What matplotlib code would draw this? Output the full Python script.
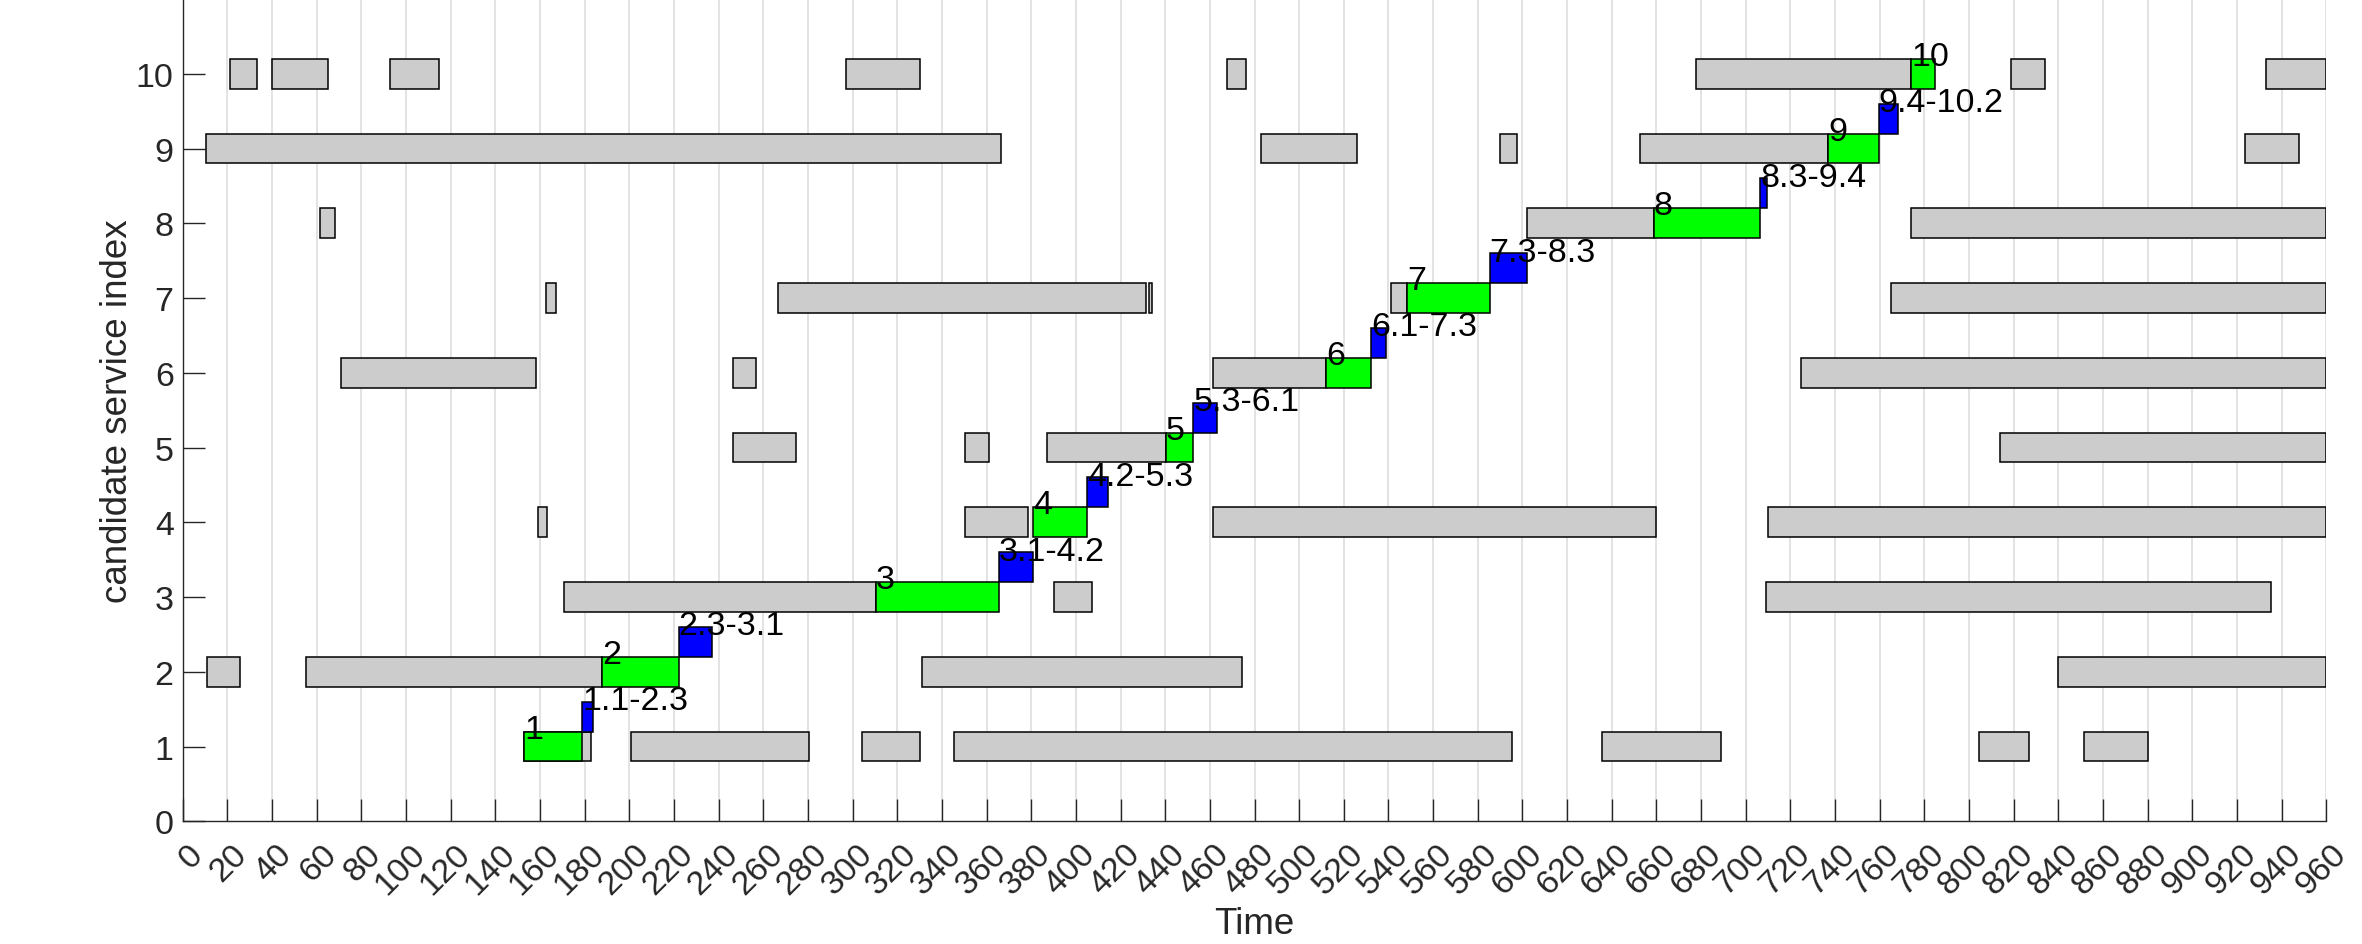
import matplotlib
matplotlib.use("Agg")
import matplotlib.pyplot as plt
import matplotlib.transforms as mtransforms
import numpy as np

plt.rcParams["font.family"] = ["Liberation Sans", "DejaVu Sans"]

# grey blocks: row index, start, end
gray_rows = [10, 10, 10, 10, 10, 10, 10, 10,
             9, 9, 9, 9, 9,
             8, 8, 8,
             7, 7, 7, 7, 7,
             6, 6, 6, 6,
             5, 5, 5, 5,
             4, 4, 4, 4,
             3, 3, 3,
             2, 2, 2, 2,
             1, 1, 1, 1, 1, 1, 1]
gray_starts = [21.0, 40.0, 92.9, 297.1, 467.9, 677.8, 818.8, 932.8,
               10.3, 483.0, 589.8, 652.7, 923.7,
               61.6, 601.9, 773.8,
               162.6, 266.7, 432.6, 541.2, 764.9,
               70.8, 246.6, 461.3, 724.7,
               246.6, 350.3, 387.1, 813.8,
               159.1, 350.3, 461.3, 710.0,
               170.8, 390.3, 708.9,
               11.0, 55.0, 331.1, 839.8,
               153.0, 200.9, 304.4, 345.3, 635.8, 804.6, 851.7]
gray_ends = [33.1, 65.1, 114.8, 330.2, 476.1, 774.0, 834.1, 960.0,
             366.3, 526.1, 597.4, 736.8, 947.9,
             68.3, 658.8, 960.0,
             167.1, 431.6, 434.2, 548.3, 960.0,
             158.0, 256.8, 512.2, 960.0,
             274.5, 361.3, 440.3, 960.0,
             163.0, 378.4, 660.0, 960.0,
             310.4, 407.4, 935.1,
             25.8, 187.9, 474.5, 960.0,
             182.9, 280.5, 330.2, 595.3, 689.0, 826.8, 880.1]

# selected services (green) per step
green_rows = [1, 2, 3, 4, 5, 6, 7, 8, 9, 10]
green_starts = [153.0, 187.9, 310.4, 380.7, 440.3, 512.2, 548.3, 658.8, 736.8, 774.0]
green_ends = [179.0, 222.1, 365.6, 404.9, 452.6, 532.1, 585.3, 706.6, 759.6, 784.8]

# transitions (blue) between steps
blue_rows = [1, 2, 3, 4, 5, 6, 7, 8, 9]
blue_labels = ["1.1-2.3", "2.3-3.1", "3.1-4.2", "4.2-5.3", "5.3-6.1",
               "6.1-7.3", "7.3-8.3", "8.3-9.4", "9.4-10.2"]
blue_starts = [179.0, 222.1, 365.6, 404.9, 452.6, 532.1, 585.3, 706.4, 759.6]
blue_ends = [183.8, 237.0, 380.7, 414.2, 463.1, 538.7, 601.9, 709.6, 768.1]

x_ticks = np.arange(0, 961, 20)
y_ticks = np.arange(0, 11, 1)

fig = plt.figure(figsize=(23.62, 9.45), dpi=100)
ax = fig.add_axes([0.07735, 0.12984, 0.90754, 0.87016])

bar_h = 0.4
edge_kw = dict(edgecolor="black", linewidth=1.1, zorder=3)

g_rows = np.array(gray_rows)
g_left = np.array(gray_starts)
ax.barh(g_rows, np.array(gray_ends) - g_left, left=g_left, height=bar_h,
        color="#CCCCCC", **edge_kw)

gr_left = np.array(green_starts)
ax.barh(np.array(green_rows), np.array(green_ends) - gr_left, left=gr_left,
        height=bar_h, color="#00FF00", **edge_kw)

b_left = np.array(blue_starts)
ax.barh(np.array(blue_rows) + 0.4, np.array(blue_ends) - b_left, left=b_left,
        height=bar_h, color="#0000FF", **edge_kw)

for row, x0 in zip(green_rows, green_starts):
    ax.text(x0, row + 0.12, str(row), ha="left", va="baseline",
            fontsize=24.5, color="black", zorder=5)
for row, x0, lab in zip(blue_rows, blue_starts, blue_labels):
    ax.text(x0, row + 0.5, lab, ha="left", va="baseline",
            fontsize=24.5, color="black", zorder=5)

ax.set_xlim(0, 960)
ax.set_ylim(0, 11)
ax.set_xticks(x_ticks)
ax.set_yticks(y_ticks)
ax.set_xticklabels([str(v) for v in x_ticks], rotation=45,
                   rotation_mode="anchor", ha="right", va="center")
ax.tick_params(axis="both", direction="in", length=16, width=1.0,
               color="#262626", labelcolor="#262626", labelsize=24.5)
ax.tick_params(axis="x", pad=20)
ax.tick_params(axis="y", pad=6.5)

shift = mtransforms.ScaledTranslation(15 / 100, 0, fig.dpi_scale_trans)
for lab in ax.get_xticklabels():
    lab.set_transform(lab.get_transform() + shift)

ax.grid(True, axis="x", color="#E0E0E0", linewidth=1.3)
ax.set_axisbelow(True)

for side in ("top", "right"):
    ax.spines[side].set_visible(False)
for side in ("left", "bottom"):
    ax.spines[side].set_color("#262626")
    ax.spines[side].set_linewidth(1.0)

ax.set_xlabel("Time", fontsize=26.5, color="#262626")
ax.set_ylabel("candidate service index", fontsize=26.5, color="#262626")
ax.xaxis.set_label_coords(0.5, -0.103)
ax.yaxis.set_label_coords(-0.0223, 0.5)

fig.savefig("out.png", dpi=100)
